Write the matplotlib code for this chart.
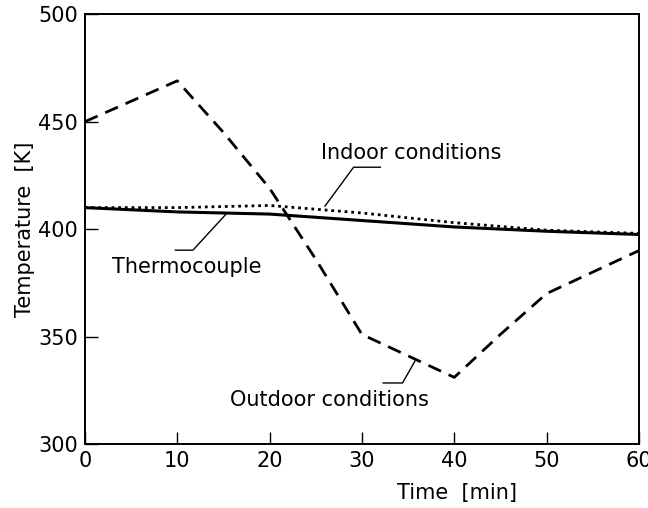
import matplotlib
matplotlib.use('Agg')
import matplotlib.pyplot as plt

# time in minutes
time = [0, 10, 15, 20, 25, 30, 35, 40, 45, 50, 55, 60]
outdoor = [450, 469, 445, 419, 386, 351, 341, 331, 351, 370, 380, 390]

time_in = [0, 10, 20, 30, 40, 50, 60]
thermocouple = [410, 408, 407, 404, 401, 399, 397.5]
indoor = [410, 410, 411, 407.5, 403, 399.5, 398]

xticks = [0, 10, 20, 30, 40, 50, 60]
yticks = [300, 350, 400, 450, 500]

plt.rcParams['font.family'] = ['DejaVu Sans']

fig = plt.figure(figsize=(6.48, 5.08), dpi=100)
ax = fig.add_axes([0.131, 0.126, 0.855, 0.846])

ax.plot(time, outdoor, color='black', lw=2.0, dashes=(5, 3))
ax.plot(time_in, thermocouple, color='black', lw=2.2)
ax.plot(time_in, indoor, color='black', lw=2.0, linestyle=(0, (1, 1.4)))

ax.set_xlim(0, 60)
ax.set_ylim(300, 500)
ax.set_xticks(xticks)
ax.set_yticks(yticks)
ax.tick_params(direction='in', length=9, width=1, labelsize=15, pad=5)
for s in ax.spines.values():
	s.set_linewidth(1.4)

ax.set_ylabel('Temperature  [K]', fontsize=15, labelpad=2)
fig.text(0.705, 0.03, 'Time  [min]', fontsize=15, ha='center', va='center')

#labels with leader lines
ax.text(25.6, 435.5, 'Indoor conditions', fontsize=15, ha='left', va='center')
ax.plot([26.0, 29.1, 32.0], [410.7, 428.8, 428.8], color='black', lw=1)

ax.text(2.9, 382.5, 'Thermocouple', fontsize=15, ha='left', va='center')
ax.plot([15.4, 11.7, 9.8], [407.5, 390.2, 390.2], color='black', lw=1)

ax.text(15.7, 320.5, 'Outdoor conditions', fontsize=15, ha='left', va='center')
ax.plot([35.8, 34.4, 32.3], [339, 328.4, 328.4], color='black', lw=1)

plt.savefig('out.png')
